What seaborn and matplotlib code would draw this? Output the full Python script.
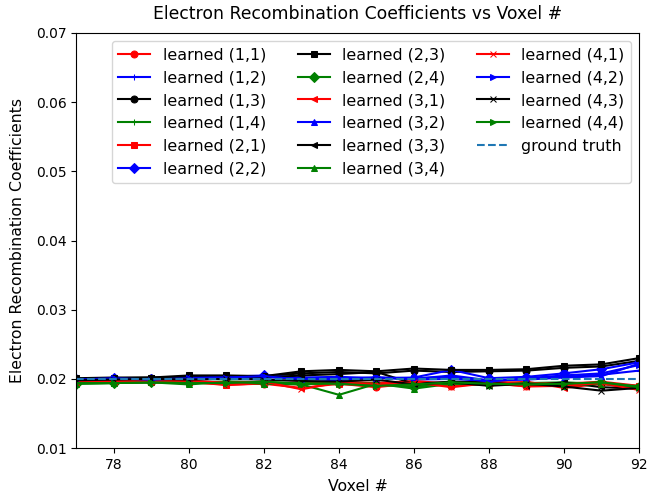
import numpy as np
import pandas as pd
import matplotlib
matplotlib.use("Agg")
import matplotlib.pyplot as plt
import seaborn as sns

# voxel indices on the x axis
voxels = list(range(77, 93))

# learned coefficients per (i,j) entry
s11 = [0.0195, 0.0196, 0.0196, 0.0197, 0.0192, 0.0193, 0.0195, 0.0193, 0.0188, 0.0194, 0.0190, 0.0193, 0.0190, 0.0192, 0.0193, 0.0188]
s12 = [0.0199, 0.0200, 0.0201, 0.0200, 0.0202, 0.0203, 0.0201, 0.0200, 0.0202, 0.0199, 0.0200, 0.0197, 0.0200, 0.0203, 0.0206, 0.0212]
s13 = [0.0200, 0.0201, 0.0202, 0.0203, 0.0203, 0.0204, 0.0208, 0.0210, 0.0208, 0.0212, 0.0210, 0.0211, 0.0212, 0.0216, 0.0218, 0.0226]
s14 = [0.0194, 0.0195, 0.0196, 0.0194, 0.0196, 0.0195, 0.0194, 0.0192, 0.0195, 0.0191, 0.0193, 0.0195, 0.0194, 0.0195, 0.0193, 0.0190]
s21 = [0.0196, 0.0195, 0.0195, 0.0196, 0.0191, 0.0194, 0.0192, 0.0196, 0.0194, 0.0197, 0.0193, 0.0196, 0.0194, 0.0193, 0.0196, 0.0190]
s22 = [0.0200, 0.0201, 0.0200, 0.0202, 0.0203, 0.0205, 0.0202, 0.0203, 0.0201, 0.0202, 0.0213, 0.0201, 0.0203, 0.0208, 0.0214, 0.0224]
s23 = [0.0201, 0.0202, 0.0202, 0.0205, 0.0205, 0.0204, 0.0211, 0.0213, 0.0211, 0.0215, 0.0213, 0.0213, 0.0214, 0.0219, 0.0221, 0.0230]
s24 = [0.0193, 0.0194, 0.0195, 0.0195, 0.0196, 0.0195, 0.0193, 0.0194, 0.0193, 0.0188, 0.0195, 0.0192, 0.0194, 0.0192, 0.0195, 0.0189]
s31 = [0.0195, 0.0196, 0.0197, 0.0195, 0.0192, 0.0193, 0.0187, 0.0193, 0.0190, 0.0193, 0.0195, 0.0192, 0.0196, 0.0187, 0.0193, 0.0185]
s32 = [0.0199, 0.0200, 0.0199, 0.0201, 0.0200, 0.0203, 0.0200, 0.0198, 0.0202, 0.0200, 0.0205, 0.0198, 0.0199, 0.0202, 0.0204, 0.0222]
s33 = [0.0199, 0.0200, 0.0201, 0.0202, 0.0201, 0.0202, 0.0205, 0.0207, 0.0210, 0.0193, 0.0196, 0.0195, 0.0190, 0.0195, 0.0188, 0.0186]
s34 = [0.0193, 0.0194, 0.0195, 0.0192, 0.0196, 0.0193, 0.0192, 0.0177, 0.0193, 0.0186, 0.0193, 0.0191, 0.0194, 0.0190, 0.0193, 0.0188]
s41 = [0.0196, 0.0197, 0.0196, 0.0198, 0.0194, 0.0196, 0.0185, 0.0195, 0.0192, 0.0195, 0.0188, 0.0194, 0.0189, 0.0190, 0.0194, 0.0184]
s42 = [0.0199, 0.0201, 0.0199, 0.0201, 0.0202, 0.0204, 0.0199, 0.0201, 0.0202, 0.0201, 0.0203, 0.0196, 0.0201, 0.0205, 0.0208, 0.0220]
s43 = [0.0198, 0.0199, 0.0200, 0.0199, 0.0200, 0.0199, 0.0197, 0.0196, 0.0199, 0.0192, 0.0195, 0.0190, 0.0193, 0.0189, 0.0183, 0.0187]
s44 = [0.0194, 0.0194, 0.0195, 0.0194, 0.0194, 0.0196, 0.0193, 0.0193, 0.0190, 0.0192, 0.0195, 0.0193, 0.0192, 0.0193, 0.0195, 0.0188]
ground_truth = [0.02] * len(voxels)

series = [s11, s12, s13, s14, s21, s22, s23, s24, s31, s32, s33, s34, s41, s42, s43, s44]
labels = ["learned (%d,%d)" % (i, j) for i in range(1, 5) for j in range(1, 5)]
colors = ["red", "blue", "black", "green"]
markers = ["o", "+", "o", "+", "s", "D", "s", "D", "<", "^", "<", "^", "x", ">", "x", ">"]

fig, ax = plt.subplots(figsize=(6.48, 4.99), dpi=100)
fig.subplots_adjust(left=0.118, right=0.986, top=0.934, bottom=0.102)

for k, vals in enumerate(series):
    sns.lineplot(x=voxels, y=vals, ax=ax, color=colors[k % 4], marker=markers[k],
                 markersize=5, markeredgecolor=colors[k % 4], linewidth=1.5, label=labels[k])

sns.lineplot(x=voxels, y=ground_truth, ax=ax, color="#1f77b4", linestyle="--",
             linewidth=1.5, label="ground truth")

ax.set_xlim(77, 92)
ax.set_ylim(0.01, 0.07)
ax.set_xticks(range(78, 93, 2))
ax.set_title("Electron Recombination Coefficients vs Voxel #", fontsize=12.4, pad=10)
ax.set_xlabel("Voxel #", fontsize=11.3, labelpad=5)
ax.set_ylabel("Electron Recombination Coefficients", fontsize=11.3, labelpad=8)
ax.legend(loc="upper right", ncol=3, fontsize=11.4)

plt.savefig("out.png", dpi=100)
